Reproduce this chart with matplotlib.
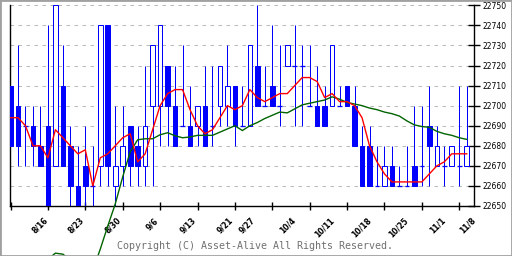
import matplotlib
matplotlib.use("Agg")
import matplotlib.pyplot as plt
import matplotlib.transforms as mtransforms
from matplotlib.patches import Rectangle
import numpy as np

opens  = [22710,22700,22690,22690,22680,22690,22670,22710,22680,22660,
          22670,22660,22670,22740,22660,22670,22690,22680,22670,22700,
          22700,22720,22700,22690,22690,22690,22700,22690,22700,22700,
          22710,22690,22690,22720,22700,22710,22700,22720,22720,22720,
          22700,22700,22700,22700,22700,22710,22700,22680,22680,22660,
          22660,22670,22660,22660,22670,22670,22690,22670,22670,22670,
          22670,22670]
highs  = [22710,22730,22700,22700,22700,22740,22750,22730,22690,22680,
          22690,22680,22740,22740,22700,22700,22690,22690,22720,22730,
          22740,22720,22720,22730,22710,22700,22720,22720,22720,22730,
          22710,22710,22730,22750,22720,22740,22730,22730,22740,22730,
          22730,22720,22710,22730,22710,22710,22710,22690,22690,22680,
          22680,22680,22670,22680,22700,22700,22710,22690,22680,22680,
          22710,22710]
lows   = [22680,22670,22670,22670,22670,22650,22670,22670,22650,22650,
          22650,22650,22660,22660,22650,22660,22660,22660,22660,22660,
          22680,22680,22680,22690,22680,22680,22680,22680,22690,22690,
          22680,22690,22690,22700,22700,22700,22690,22720,22690,22690,
          22700,22690,22690,22700,22700,22700,22680,22660,22660,22660,
          22660,22660,22660,22660,22660,22660,22660,22670,22660,22670,
          22660,22670]
closes = [22680,22680,22690,22680,22670,22650,22750,22670,22660,22650,
          22660,22660,22740,22670,22670,22680,22670,22670,22690,22730,
          22740,22700,22680,22690,22680,22700,22680,22690,22720,22710,
          22690,22690,22730,22700,22700,22700,22700,22730,22720,22720,
          22700,22690,22690,22730,22700,22700,22680,22660,22660,22660,
          22670,22660,22660,22660,22660,22670,22680,22680,22670,22680,
          22670,22680]
ma_short = [22694,22694,22690,22680,22680,22674,22688,22684,22680,22676,
            22678,22660,22674,22676,22680,22684,22686,22672,22676,22688,
            22700,22706,22708,22708,22698,22690,22686,22688,22694,22700,
            22698,22700,22708,22704,22702,22704,22706,22706,22710,22714,
            22714,22712,22704,22706,22702,22702,22700,22694,22680,22672,
            22666,22662,22662,22662,22662,22662,22666,22670,22672,22676,
            22676,22676]
ma_long = [22600,22605,22610,22615,22619,22623.5,22626.5,22626,22623,22620,
           22618,22618,22628.5,22640,22651,22664.5,22677,22683,22683.5,22683.5,
           22685.5,22686.5,22685,22684,22684.4,22685.2,22685.2,22685.2,22686.8,22688.4,
           22690.0,22687.6,22690.0,22691.6,22693.6,22695.2,22696.8,22696.4,22698.4,22700.4,
           22701.2,22702.0,22702.8,22704.4,22703.2,22701.6,22700.8,22700.0,22698.8,22698.0,
           22696.8,22696.0,22694.8,22692.4,22690.4,22689.6,22689.2,22687.2,22686.0,22685.2,
           22684.0,22683.2]
date_labels = ["8/16","8/23","8/30","9/6","9/13","9/21","9/27",
               "10/4","10/11","10/18","10/25","11/1","11/8"]
date_label_idx = [5.3, 10, 15, 20, 25, 30, 33, 38.4, 43.5, 48.5, 53.4, 58.4, 62.4]
y_ticks = [22650,22660,22670,22680,22690,22700,22710,22720,22730,22740,22750]

BLUE = "#0000ff"
px = 0.72

fig = plt.figure(figsize=(5.12, 2.56), dpi=100)
fig.patch.set_facecolor("white")
ax = fig.add_axes([10.3/512, 1-206/256, (474-10.3)/512, (206-5.3)/256])
ax.set_xlim(-0.03, 61.97)
ax.set_ylim(22650, 22750)

x = np.arange(len(opens))
o = np.array(opens); c = np.array(closes)
h = np.array(highs); l = np.array(lows)

# grid
for v in y_ticks[1:]:
    ax.axhline(v, color="#b8b8b8", lw=px, ls=(0, (3.5, 4.5)), zorder=1, clip_on=False)

# wicks
ax.vlines(x, l, h, colors=BLUE, lw=px, zorder=2)
w = 0.62
up = c > o
dn = c < o
dj = c == o
ax.bar(x[dn], (o - c)[dn], bottom=c[dn], width=w, color=BLUE, edgecolor=BLUE,
       lw=px, zorder=3)
ax.bar(x[up], (c - o)[up], bottom=o[up], width=w, color="white", edgecolor=BLUE,
       lw=px, zorder=3)
ax.hlines(c[dj], x[dj] - w/2, x[dj] + w/2, colors=BLUE, lw=px*1.3, zorder=3)

ax.plot(x, ma_long, color="#006400", lw=1.0, zorder=4, clip_on=False)
ax.plot(x, ma_short, color="#ff0000", lw=1.0, zorder=5)

for s in ["top"]:
    ax.spines[s].set_visible(False)
for s in ["left", "right", "bottom"]:
    ax.spines[s].set_linewidth(1.0)
    ax.spines[s].set_color("black")

ax.set_xticks(np.arange(0, 61, 5))
ax.set_xticklabels([])
ax.tick_params(axis="x", direction="inout", length=6, width=1.0, color="black")
ax.yaxis.tick_right()
ax.set_yticks(y_ticks)
ax.set_yticklabels([str(v) for v in y_ticks], fontsize=5.5)
ax.tick_params(axis="y", direction="inout", length=8, width=1.0, pad=2, color="black")

trans = mtransforms.blended_transform_factory(ax.transData, ax.transAxes)
trans = mtransforms.offset_copy(trans, fig=fig, x=0, y=-10, units="dots")
for lab, xi in zip(date_labels, date_label_idx):
    ax.text(xi, 0, lab, transform=trans, rotation=45, ha="right", va="top",
            fontsize=5.5, fontweight="bold", clip_on=False)

fig.text(255/512, 1-246/256, "Copyright (C) Asset-Alive All Rights Reserved.",
         ha="center", va="center", family="DejaVu Sans Mono", fontsize=7.2,
         color="#707070")

fig.patches.append(Rectangle((0, 0), 1, 1, transform=fig.transFigure, fill=False,
                             edgecolor="#a0a0a0", lw=2.0, zorder=10))

fig.savefig("out.png", dpi=100, facecolor="white")
